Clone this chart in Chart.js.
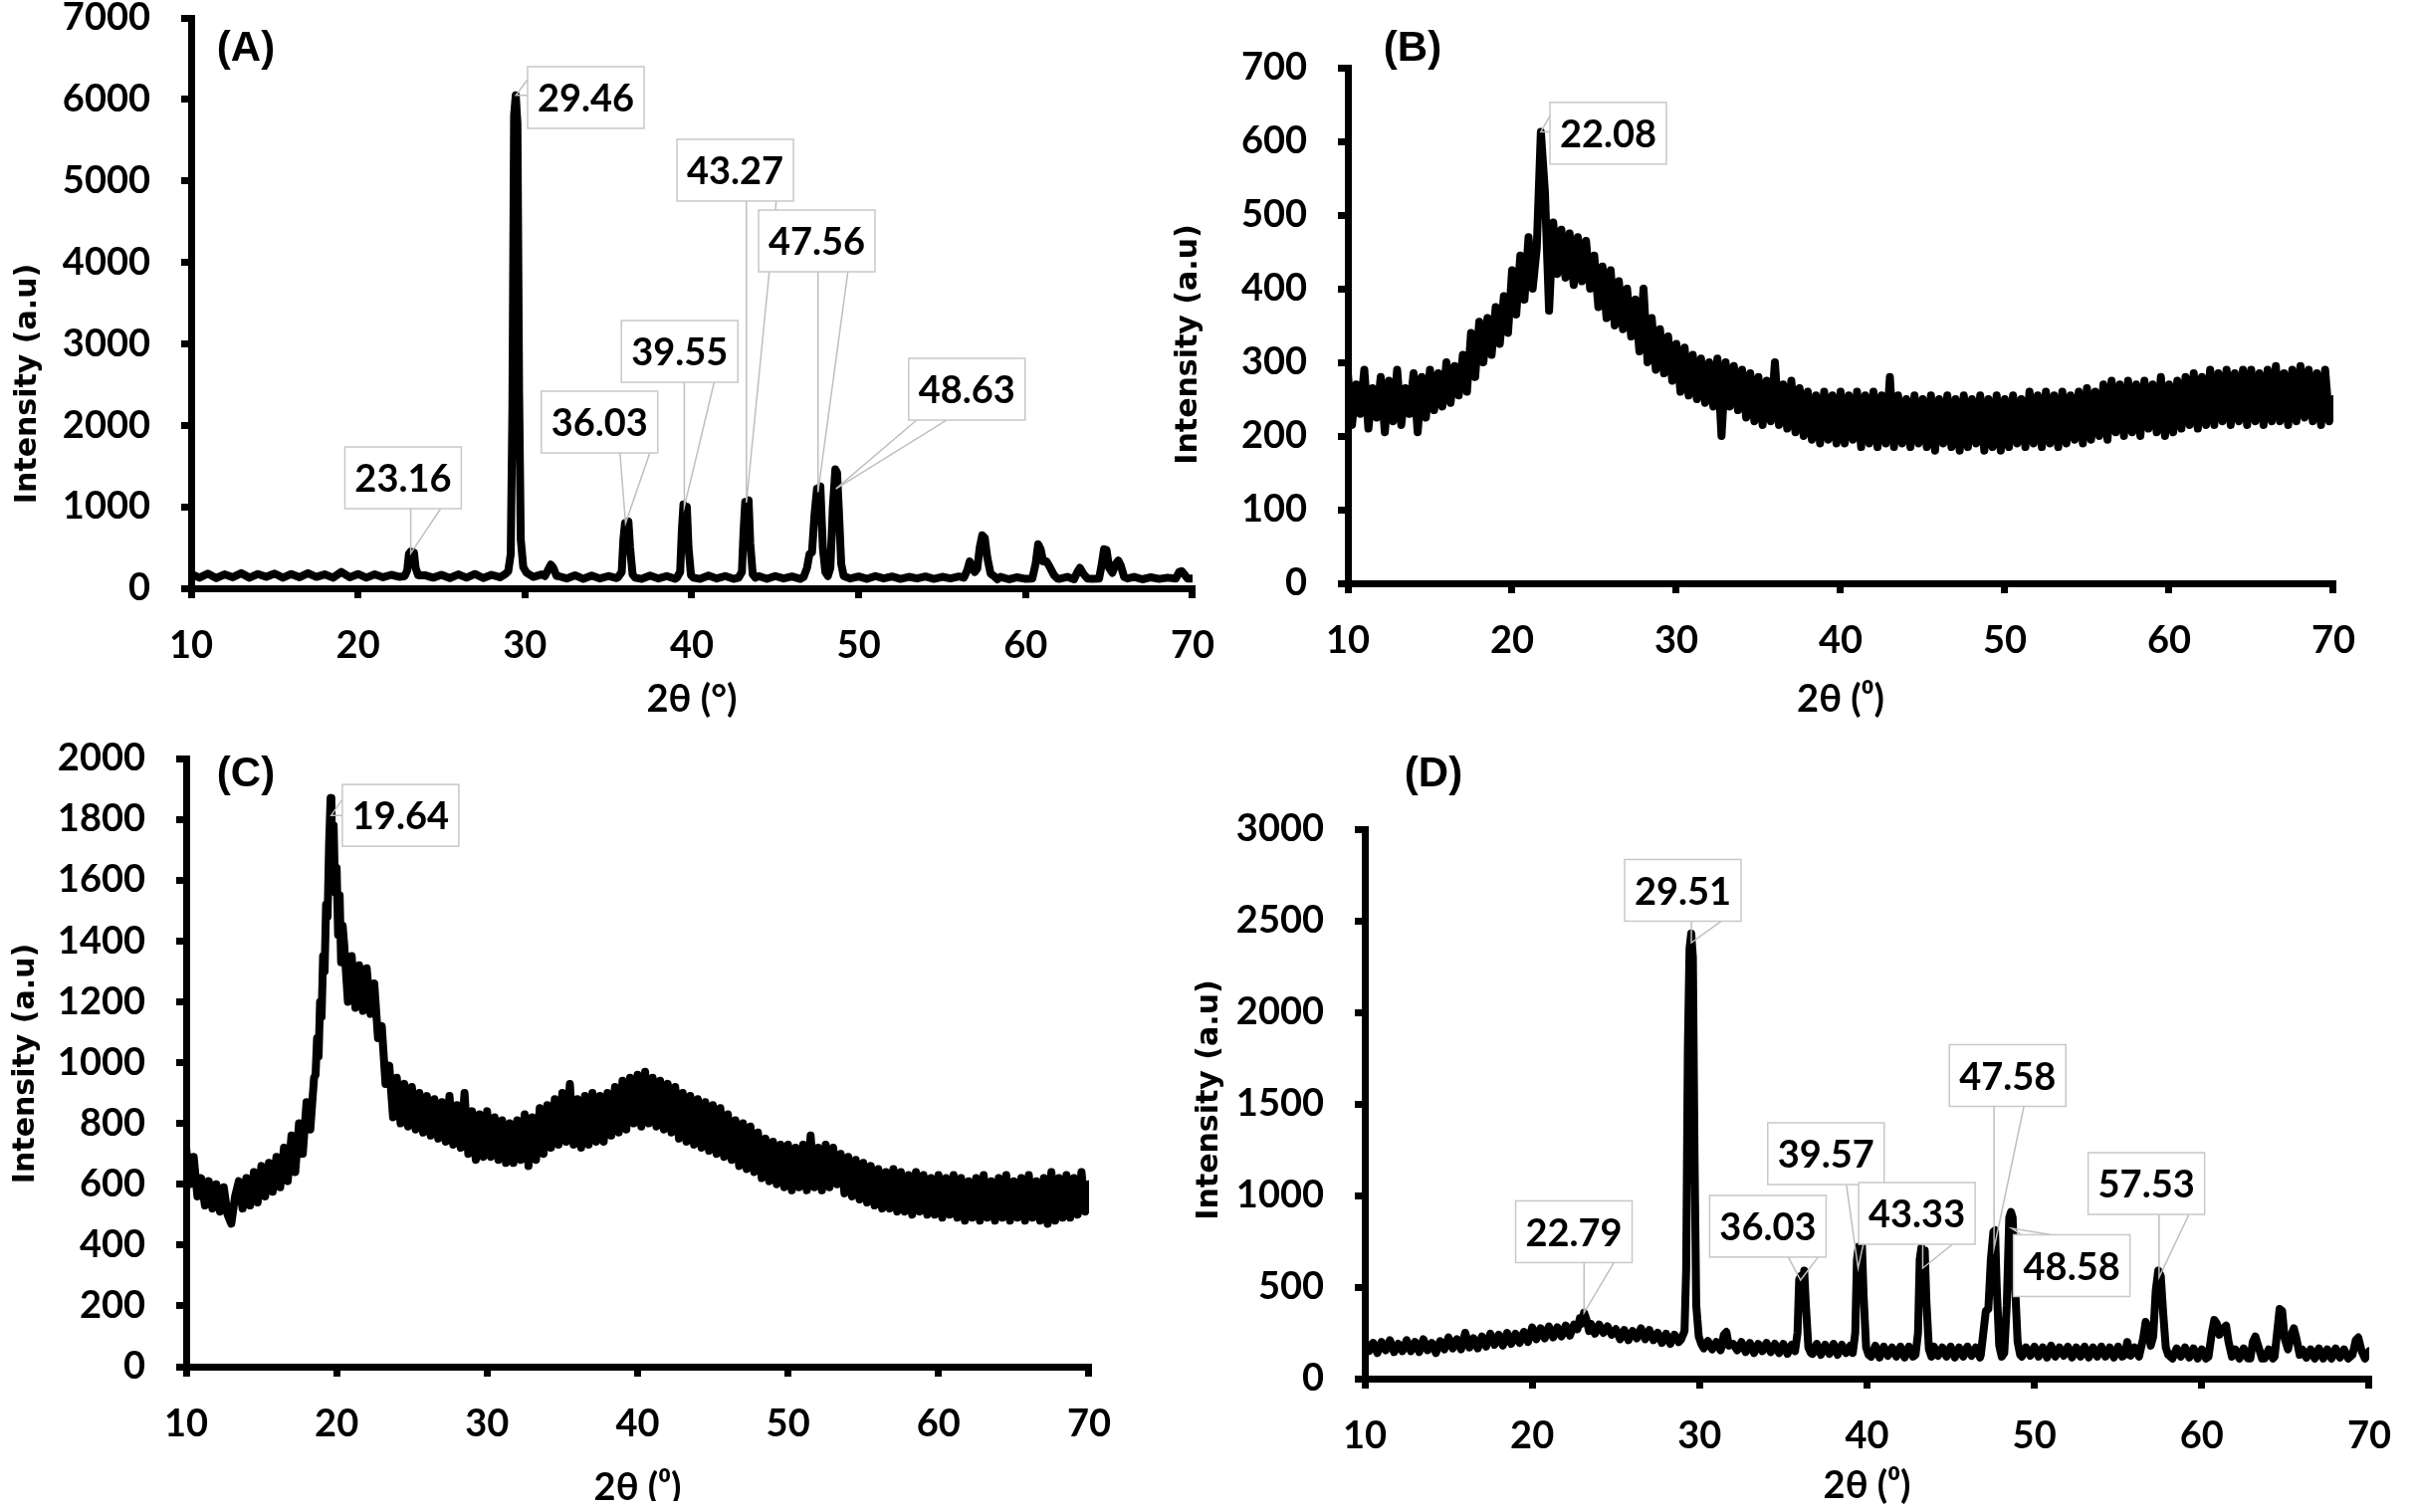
<!DOCTYPE html>
<html>
<head>
<meta charset="utf-8">
<script src="https://cdn.jsdelivr.net/npm/chart.js@4.4.1/dist/chart.umd.min.js"></script>
<style>
  html, body { margin: 0; padding: 0; background: #fff; }
  body { width: 2428px; height: 1519px; position: relative; overflow: hidden; }
  canvas { position: absolute; }
</style>
</head>
<body>
<canvas id="panelA"></canvas>
<canvas id="panelB"></canvas>
<canvas id="panelC"></canvas>
<canvas id="panelD"></canvas>
<script>
"use strict";

// 2-theta axis, shared by the four patterns
const xTicks = [10, 20, 30, 40, 50, 60, 70];

// ---------- (A) ----------
const yTicksA = [0, 1000, 2000, 3000, 4000, 5000, 6000, 7000];
const startA = 10, stepA = 0.5;
const baseA = [
    175, 130, 180, 125, 170, 135, 185, 130, 175, 140,
    180, 130, 175, 135, 185, 140, 170, 130, 200, 135,
    175, 130, 170, 135, 165, 140, 170, 135, 160, 130,
    165, 125, 170, 130, 175, 125, 165, 135, 170, 140,
    180, 140, 170, 150, 150, 120, 160, 115, 155, 120,
    150, 125, 150, 150, 115, 155, 120, 150, 115, 140,
    150, 115, 155, 120, 150, 115, 145, 120, 150, 115,
    150, 120, 145, 115, 150, 120, 150, 120, 145, 120,
    145, 115, 150, 120, 145, 115, 140, 120, 145, 115,
    140, 120, 145, 150, 140, 120, 115, 140, 110, 135,
    115, 140, 110, 135, 115, 140, 110, 135, 115, 140,
    110, 135, 115, 140, 110, 135, 115, 130, 110, 140,
    120
];
const peaksA = [
    [[22.8, 150], [22.95, 220], [23.05, 420], [23.15, 450], [23.25, 380], [23.35, 440], [23.45, 250], [23.6, 160]],
    [[28.8, 170], [29.0, 210], [29.15, 420], [29.25, 2200], [29.35, 5800], [29.45, 6050], [29.55, 5700], [29.65, 2400], [29.75, 600], [29.9, 260], [30.1, 190]],
    [[31.2, 150], [31.4, 230], [31.55, 290], [31.7, 250], [31.9, 150]],
    [[35.6, 140], [35.8, 200], [35.9, 600], [36.0, 800], [36.1, 780], [36.2, 820], [36.3, 500], [36.45, 170], [36.6, 130]],
    [[39.1, 130], [39.3, 200], [39.4, 700], [39.5, 1030], [39.6, 980], [39.7, 1000], [39.8, 500], [39.95, 160], [40.1, 130]],
    [[42.8, 130], [43.0, 200], [43.1, 700], [43.2, 1060], [43.3, 1000], [43.4, 1080], [43.5, 550], [43.65, 170], [43.8, 130]],
    [[46.7, 140], [46.9, 250], [47.05, 420], [47.2, 440], [47.35, 900], [47.5, 1220], [47.6, 1150], [47.7, 1250], [47.85, 500], [48.0, 200],
     [48.15, 150], [48.3, 250], [48.45, 1000], [48.6, 1460], [48.7, 1420], [48.8, 1000], [48.95, 300], [49.1, 150]],
    [[56.3, 130], [56.5, 220], [56.65, 330], [56.8, 260], [56.95, 200], [57.1, 240], [57.25, 500], [57.4, 650], [57.55, 620], [57.7, 380], [57.9, 180], [58.1, 150], [58.3, 110]],
    [[60.4, 120], [60.6, 300], [60.75, 540], [60.9, 480], [61.05, 330], [61.25, 330], [61.45, 260], [61.7, 160], [61.9, 120]],
    [[62.9, 110], [63.1, 200], [63.25, 250], [63.45, 180], [63.7, 120]],
    [[64.4, 120], [64.55, 280], [64.7, 480], [64.85, 470], [65.0, 250], [65.2, 190], [65.4, 300], [65.55, 340], [65.7, 280], [65.9, 140], [66.1, 120]],
    [[69.0, 120], [69.2, 200], [69.35, 210], [69.55, 160], [69.7, 120]]
];
const labelsA = ["23.16", "29.46", "36.03", "39.55", "43.27", "47.56", "48.63"];
const tipsA = [[23.16, 430], [29.46, 6050], [36.03, 800], [39.55, 1000], [43.27, 1050], [47.56, 1180], [48.63, 1220]];

// ---------- (B) ----------
const yTicksB = [0, 100, 200, 300, 400, 500, 600, 700];
const startB = 10, stepB = 0.25;
const valuesB = [
    285, 215, 270, 230, 290, 210, 265, 225, 280, 205,
    275, 220, 290, 215, 265, 230, 285, 205, 280, 225,
    290, 235, 285, 240, 300, 245, 295, 255, 310, 260,
    340, 280, 355, 300, 360, 310, 375, 325, 390, 340,
    425, 365, 445, 385, 470, 400, 455, 613, 530, 370,
    490, 420, 480, 415, 475, 405, 470, 410, 465, 400,
    445, 375, 430, 360, 425, 350, 410, 345, 400, 335,
    385, 315, 400, 300, 360, 290, 345, 285, 335, 275,
    325, 260, 320, 255, 310, 250, 305, 245, 300, 240,
    305, 200, 300, 240, 295, 235, 290, 225, 285, 220,
    280, 215, 275, 220, 300, 215, 270, 210, 275, 205,
    265, 200, 260, 195, 255, 190, 260, 195, 255, 190,
    260, 190, 255, 195, 260, 185, 255, 190, 260, 185,
    255, 190, 280, 185, 255, 190, 250, 185, 255, 190,
    250, 185, 255, 180, 250, 190, 255, 185, 250, 180,
    255, 185, 250, 190, 255, 180, 250, 185, 255, 180,
    250, 185, 255, 190, 250, 185, 260, 190, 255, 185,
    260, 190, 255, 185, 260, 190, 255, 195, 260, 190,
    265, 195, 260, 200, 270, 195, 275, 205, 270, 200,
    275, 205, 270, 200, 275, 210, 270, 205, 280, 200,
    270, 205, 275, 210, 280, 215, 285, 210, 280, 215,
    290, 215, 285, 220, 290, 215, 285, 220, 290, 215,
    290, 220, 285, 215, 290, 220, 295, 220, 285, 215,
    290, 220, 295, 225, 290, 220, 285, 215, 290, 220,
    250
];
const labelsB = ["22.08"];
const tipsB = [[21.75, 613]];

// ---------- (C) ----------
const yTicksC = [0, 200, 400, 600, 800, 1000, 1200, 1400, 1600, 1800, 2000];
const startC = 10, stepC = 0.25;
const valuesC = [
    720, 600, 690, 560, 620, 530, 610, 520, 600, 510,
    590, 500, 470, 560, 610, 520, 620, 530, 640, 540,
    660, 560, 670, 575, 690, 590, 720, 610, 760, 640,
    800, 700, 870, 780, 950, 1000, 1150, 1400, 1700, 1750,
    1550, 1380, 1390, 1200, 1350, 1180, 1320, 1170, 1310, 1160,
    1260, 1080, 1120, 930, 990, 820, 950, 800, 930, 790,
    920, 780, 900, 770, 890, 760, 880, 750, 870, 740,
    890, 730, 860, 720, 900, 700, 840, 680, 830, 690,
    840, 690, 820, 680, 810, 670, 800, 670, 810, 680,
    830, 660, 820, 680, 850, 700, 860, 720, 880, 730,
    900, 740, 930, 730, 880, 720, 890, 730, 900, 740,
    890, 740, 900, 760, 920, 770, 940, 780, 950, 800,
    960, 790, 970, 800, 950, 790, 940, 780, 930, 770,
    920, 750, 900, 740, 890, 730, 880, 720, 870, 710,
    860, 700, 850, 690, 830, 680, 810, 660, 800, 650,
    790, 640, 770, 620, 750, 610, 740, 600, 730, 590,
    730, 580, 720, 590, 730, 580, 760, 590, 720, 580,
    730, 590, 720, 600, 700, 570, 690, 560, 680, 550,
    670, 540, 660, 530, 650, 520, 640, 520, 650, 510,
    640, 510, 630, 500, 640, 510, 630, 500, 620, 500,
    630, 490, 620, 500, 630, 490, 620, 480, 610, 490,
    620, 480, 630, 490, 610, 480, 620, 490, 630, 480,
    610, 490, 620, 480, 630, 490, 610, 480, 620, 470,
    640, 480, 620, 490, 630, 490, 620, 500, 640, 510,
    600
];
const peaksC = [
    [[18.6, 960], [18.7, 1080], [18.8, 1020], [18.9, 1200], [19.0, 1150], [19.1, 1350], [19.2, 1300], [19.3, 1520], [19.4, 1480], [19.5, 1720],
     [19.6, 1870], [19.65, 1860], [19.7, 1700], [19.8, 1780], [19.9, 1560], [20.0, 1640], [20.1, 1420], [20.2, 1550], [20.3, 1330], [20.4, 1450]]
];
const labelsC = ["19.64"];
const tipsC = [[19.64, 1813]];

// ---------- (D) ----------
const yTicksD = [0, 500, 1000, 1500, 2000, 2500, 3000];
const startD = 10, stepD = 0.25;
const baseD = [
    205, 150, 195, 140, 200, 155, 210, 145, 190, 150,
    210, 150, 200, 145, 215, 155, 195, 140, 205, 160,
    225, 165, 215, 160, 250, 170, 220, 165, 230, 175,
    245, 185, 240, 180, 250, 190, 245, 195, 255, 200,
    280, 215, 275, 220, 285, 225, 280, 230, 290, 235,
    295, 240, 300, 300, 300, 245, 295, 250, 285, 240,
    270, 215, 265, 210, 260, 220, 275, 215, 265, 210,
    250, 195, 245, 190, 240, 200, 235, 195, 230, 200,
    215, 165, 205, 160, 200, 155, 195, 150, 190, 155,
    200, 145, 195, 140, 190, 150, 195, 145, 190, 140,
    190, 135, 185, 130, 190, 140, 185, 135, 190, 130,
    185, 135, 190, 130, 185, 140, 180, 135, 185, 130,
    175, 120, 180, 115, 175, 125, 170, 120, 175, 115,
    175, 120, 180, 120, 170, 115, 175, 125, 170, 120,
    175, 115, 170, 120, 175, 125, 170, 115, 175, 120,
    170, 120, 175, 115, 170, 125, 175, 120, 170, 125,
    175, 120, 170, 115, 180, 120, 170, 125, 175, 115,
    170, 120, 175, 115, 170, 120, 175, 120, 170, 115,
    175, 120, 210, 125, 170, 120, 175, 120, 170, 115,
    165, 115, 170, 110, 165, 120, 170, 115, 165, 110,
    160, 110, 165, 110, 160, 115, 165, 110, 160, 110,
    165, 110, 160, 115, 165, 110, 160, 110, 165, 115,
    160, 110, 165, 110, 160, 115, 160, 110, 165, 110,
    160, 110, 165, 115, 160, 110, 190, 115, 160, 110,
    150
];
const peaksD = [
    [[22.7, 270], [22.85, 330], [22.95, 300], [23.1, 360], [23.25, 320], [23.4, 260]],
    [[28.9, 215], [29.1, 260], [29.2, 600], [29.3, 1800], [29.4, 2350], [29.5, 2430], [29.6, 2300], [29.7, 1200], [29.8, 400], [29.95, 230], [30.1, 190]],
    [[31.3, 170], [31.45, 240], [31.6, 255], [31.75, 180]],
    [[35.7, 150], [35.85, 250], [35.95, 540], [36.05, 560], [36.15, 520], [36.25, 590], [36.35, 400], [36.5, 170], [36.65, 140]],
    [[39.15, 140], [39.3, 250], [39.4, 650], [39.5, 720], [39.6, 600], [39.7, 725], [39.8, 450], [39.95, 170], [40.1, 130]],
    [[42.9, 130], [43.05, 250], [43.15, 650], [43.25, 715], [43.35, 600], [43.45, 700], [43.55, 420], [43.7, 160], [43.85, 120]],
    [[46.8, 130], [46.95, 250], [47.1, 370], [47.25, 380], [47.4, 650], [47.55, 800], [47.65, 810], [47.75, 500], [47.9, 180], [48.05, 120],
     [48.2, 140], [48.35, 400], [48.5, 880], [48.6, 910], [48.7, 880], [48.85, 500], [49.0, 200], [49.15, 130]],
    [[55.4, 130], [55.55, 200], [55.7, 140]],
    [[56.3, 140], [56.5, 220], [56.65, 310], [56.8, 260], [56.95, 180], [57.1, 230], [57.25, 480], [57.4, 590], [57.55, 560], [57.7, 350], [57.85, 170], [58.0, 130]],
    [[60.4, 120], [60.6, 250], [60.75, 320], [60.9, 300], [61.05, 240], [61.25, 270], [61.45, 290], [61.6, 200], [61.8, 120]],
    [[62.9, 110], [63.05, 200], [63.2, 230], [63.4, 170], [63.6, 110]],
    [[64.35, 120], [64.5, 250], [64.65, 380], [64.8, 370], [64.95, 220], [65.15, 160], [65.35, 240], [65.5, 275], [65.65, 220], [65.85, 130]],
    [[69.0, 130], [69.2, 210], [69.35, 225], [69.55, 150]]
];
const labelsD = ["22.79", "29.51", "36.03", "39.57", "43.33", "47.58", "48.58", "57.53"];
const tipsD = [[23.1, 360], [29.51, 2380], [36.03, 538], [39.47, 603], [43.33, 603], [47.59, 712], [48.64, 821], [57.45, 554]];

// ---------- layout (pixels, and callout box centres in axis units) ----------
const layoutA = { plot: [192, 18, 1217, 591], letter: [55, 31], yTitle: [-164, 81], xTitleDy: 112, lineW: 8,
    boxes: [[22.70, 1356], [33.65, 6023], [34.47, 2040], [39.27, 2907], [42.60, 5131], [47.49, 4263], [56.48, 2443]] };
const layoutB = { plot: [1354, 68, 2363, 586], letter: [65, -19], yTitle: [-160, 19], xTitleDy: 117, lineW: 8,
    boxes: [[25.85, 611]] };
const layoutC = { plot: [187, 762, 1113, 1373], letter: [60, 16], yTitle: [-161, 1], xTitleDy: 122, lineW: 8,
    boxes: [[24.25, 1813]] };
const layoutD = { plot: [1371, 833, 2399, 1385], letter: [69, -55], yTitle: [-156, -4], xTitleDy: 108, lineW: 8,
    boxes: [[22.49, 802], [29.0, 2666], [34.08, 832], [37.55, 1228], [42.98, 902], [48.40, 1655], [52.23, 617], [56.69, 1065]] };

const Y_AXIS_W = 185, X_AXIS_H = 135, PAD_TOP = 90, PAD_RIGHT = 28;
const BOX_W = 117, BOX_H = 62;

function buildSeries(start, step, values, groups) {
    const pts = [];
    values.forEach((v, i) => {
        const x = start + i * step;
        const inPeak = groups.some(g => x >= g[0][0] && x <= g[g.length - 1][0]);
        if (!inPeak) pts.push({x: x, y: v});
    });
    groups.forEach(g => g.forEach(p => pts.push({x: p[0], y: p[1]})));
    return pts.sort((a, b) => a.x - b.x);
}

function clamp(v, lo, hi) {
    return Math.min(Math.max(v, lo), hi);
}

const calloutPlugin = {
    id: "callouts",
    afterDatasetsDraw(chart, args, o) {
        const ctx = chart.ctx, sx = chart.scales.x, sy = chart.scales.y;
        ctx.save();
        ctx.font = "bold 38px Lato";
        ctx.textAlign = "center";
        ctx.textBaseline = "middle";
        o.labels.forEach((text, i) => {
            const cx = sx.getPixelForValue(o.boxes[i][0]);
            const cy = sy.getPixelForValue(o.boxes[i][1]);
            const l = cx - BOX_W / 2, r = cx + BOX_W / 2, t = cy - BOX_H / 2, b = cy + BOX_H / 2;
            const px = sx.getPixelForValue(o.tips[i][0]);
            const py = sy.getPixelForValue(o.tips[i][1]);
            let p1, p2;
            if (py > b) {
                const s = clamp(px, l + 8, r - 38);
                p1 = [s, b]; p2 = [s + 30, b];
            } else if (py < t) {
                const s = clamp(px, l + 8, r - 38);
                p1 = [s, t]; p2 = [s + 30, t];
            } else if (px < l) {
                const s = clamp(py - 16, t + 2, b - 18);
                p1 = [l, s]; p2 = [l, s + 16];
            } else {
                const s = clamp(py - 16, t + 2, b - 18);
                p1 = [r, s]; p2 = [r, s + 16];
            }
            ctx.strokeStyle = "#bfbfbf";
            ctx.lineWidth = 1.5;
            ctx.beginPath();
            ctx.moveTo(p1[0], p1[1]);
            ctx.lineTo(px, py);
            ctx.lineTo(p2[0], p2[1]);
            ctx.stroke();
            ctx.fillStyle = "#fff";
            ctx.fillRect(l, t, BOX_W, BOX_H);
            ctx.strokeStyle = "#c8c8c8";
            ctx.strokeRect(l, t, BOX_W, BOX_H);
            ctx.fillStyle = "#000";
            ctx.fillText(text, cx, cy + 2);
        });
        ctx.restore();
    }
};

const panelTextPlugin = {
    id: "panelText",
    afterDraw(chart, args, o) {
        const ctx = chart.ctx, a = chart.chartArea;
        ctx.save();
        ctx.fillStyle = "#000";
        ctx.textAlign = "center";
        ctx.textBaseline = "middle";
        ctx.font = "bold 42px 'Liberation Sans'";
        ctx.fillText(o.letter, a.left + o.letterAt[0], a.top + o.letterAt[1]);
        ctx.font = "bold 38px Lato, 'DejaVu Sans'";
        ctx.fillText(o.xTitle, (a.left + a.right) / 2, a.bottom + o.xTitleDy);
        ctx.translate(a.left + o.yTitleAt[0], (a.top + a.bottom) / 2 + o.yTitleAt[1]);
        ctx.rotate(-Math.PI / 2);
        ctx.font = "bold 30px 'DejaVu Sans'";
        ctx.fillText(o.yTitle, 0, 0);
        ctx.restore();
    }
};

function axisLook(tickValues, padding) {
    return {
        type: "linear",
        min: tickValues[0],
        max: tickValues[tickValues.length - 1],
        afterBuildTicks: s => { s.ticks = tickValues.map(v => ({value: v})); },
        border: {display: true, color: "#000", width: 7},
        grid: {display: true, drawOnChartArea: false, drawTicks: true, tickLength: 10,
               tickWidth: 7, tickColor: "#000", color: "#000", lineWidth: 7},
        ticks: {color: "#000", padding: padding, autoSkip: false, maxRotation: 0,
                font: {family: "Lato", size: 38, weight: "bold"},
                callback: v => String(v)}
    };
}

function makePanel(id, lay, points, yTicks, letter, xTitle, labels, tips) {
    const [L, T, R, B] = lay.plot;
    const canvas = document.getElementById(id);
    canvas.width = Y_AXIS_W + (R - L) + PAD_RIGHT;
    canvas.height = PAD_TOP + (B - T) + X_AXIS_H;
    canvas.style.left = (L - Y_AXIS_W) + "px";
    canvas.style.top = (T - PAD_TOP) + "px";

    const xAxis = axisLook(xTicks, 25);
    xAxis.afterFit = s => { s.height = X_AXIS_H; };
    const yAxis = axisLook(yTicks, 31);
    yAxis.afterFit = s => { s.width = Y_AXIS_W; };

    return new Chart(canvas.getContext("2d"), {
        type: "line",
        data: {
            datasets: [{
                data: points,
                borderColor: "#000",
                borderWidth: lay.lineW,
                borderJoinStyle: "round",
                borderCapStyle: "round",
                pointRadius: 0,
                tension: 0,
                fill: false
            }]
        },
        options: {
            responsive: false,
            animation: false,
            devicePixelRatio: 1,
            events: [],
            parsing: false,
            layout: {padding: {top: PAD_TOP, right: PAD_RIGHT, left: 0, bottom: 0}},
            scales: {x: xAxis, y: yAxis},
            plugins: {
                legend: {display: false},
                tooltip: {enabled: false},
                callouts: {labels: labels, tips: tips, boxes: lay.boxes},
                panelText: {letter: letter, letterAt: lay.letter, xTitle: xTitle,
                            xTitleDy: lay.xTitleDy, yTitle: "Intensity (a.u)", yTitleAt: lay.yTitle}
            }
        },
        plugins: [calloutPlugin, panelTextPlugin]
    });
}

makePanel("panelA", layoutA, buildSeries(startA, stepA, baseA, peaksA), yTicksA,
    "(A)", "2θ (°)", labelsA, tipsA);
makePanel("panelB", layoutB, buildSeries(startB, stepB, valuesB, []), yTicksB,
    "(B)", "2θ (⁰)", labelsB, tipsB);
makePanel("panelC", layoutC, buildSeries(startC, stepC, valuesC, peaksC), yTicksC,
    "(C)", "2θ (⁰)", labelsC, tipsC);
makePanel("panelD", layoutD, buildSeries(startD, stepD, baseD, peaksD), yTicksD,
    "(D)", "2θ (⁰)", labelsD, tipsD);
</script>
</body>
</html>
